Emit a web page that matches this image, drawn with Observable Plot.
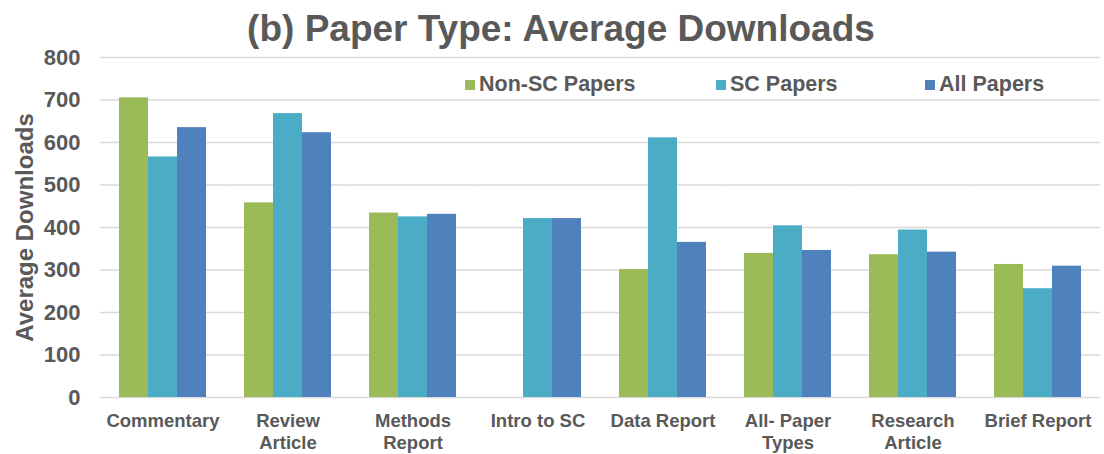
<!DOCTYPE html>
<html>
<head>
<meta charset="utf-8">
<script src="https://cdn.jsdelivr.net/npm/d3@7"></script>
<script src="https://cdn.jsdelivr.net/npm/@observablehq/plot@0.6"></script>
<style>
  html, body { margin: 0; padding: 0; background: #fff; }
  #wrap { position: relative; width: 1104px; height: 454px; font-family: "Liberation Sans", Arial, sans-serif; font-weight: bold; color: #595959; }
  #title { height: 52px; line-height: 58px; font-size: 37px; text-align: center; padding-left: 18px; box-sizing: border-box; white-space: nowrap; }
  #legend { position: absolute; top: 71px; left: 465px; font-size: 21.5px; white-space: nowrap; }
  #legend .item { display: inline-block; vertical-align: middle; }
  #legend .sw { display: inline-block; width: 10px; height: 10px; margin-right: 4px; vertical-align: 1px; }
</style>
</head>
<body>
<div id="wrap">
  <div id="title">(b) Paper Type: Average Downloads</div>
  <div id="chart"></div>
  <div id="legend"></div>
</div>
<script>
const categories = ["Commentary", "Review Article", "Methods Report", "Intro to SC", "Data Report", "All- Paper Types", "Research Article", "Brief Report"];
const tickLabels = ["Commentary", "Review\nArticle", "Methods\nReport", "Intro to SC", "Data Report", "All- Paper\nTypes", "Research\nArticle", "Brief Report"];
const seriesNames = ["Non-SC Papers", "SC Papers", "All Papers"];
const seriesColors = ["#9BBB59", "#4BACC6", "#4F81BD"];
const nonSC = [705, 458, 434, null, 301, 339, 336, 313];
const sc = [566, 668, 425, 421, 611, 404, 394, 256];
const allPapers = [635, 623, 431, 421, 365, 346, 342, 309];
const yTicks = [0, 100, 200, 300, 400, 500, 600, 700, 800];

const seriesValues = [nonSC, sc, allPapers];
const data = [];
categories.forEach((c, i) => {
  seriesNames.forEach((s, j) => {
    data.push({category: c, series: s, value: seriesValues[j][i]});
  });
});
const labelOf = new Map(categories.map((c, i) => [c, tickLabels[i]]));

const padInner = 0.285;
const gridInset = -((1104 - 100 - 3) / categories.length) * padInner / 2;

const chart = Plot.plot({
  width: 1104,
  height: 402,
  marginTop: 5,
  marginBottom: 57,
  marginLeft: 100,
  marginRight: 3,
  style: {fontFamily: "'Liberation Sans', Arial, sans-serif", fontWeight: "bold", color: "#595959", background: "transparent", overflow: "visible"},
  fx: {domain: categories, paddingInner: padInner, paddingOuter: padInner / 2, label: null},
  x: {domain: seriesNames, padding: 0, axis: null},
  y: {domain: [0, 800], ticks: yTicks},
  color: {domain: seriesNames, range: seriesColors},
  marks: [
    Plot.ruleY(yTicks, {stroke: "#d9d9d9", strokeWidth: 1.4, insetLeft: gridInset, insetRight: gridInset}),
    Plot.barY(data.filter(d => d.value != null), {fx: "category", x: "series", y: "value", fill: "series"}),
    Plot.axisY({ticks: yTicks, tickSize: 0, tickPadding: 38, fontSize: 22, label: "Average Downloads", labelAnchor: "center", labelArrow: "none", labelOffset: 103}),
    Plot.axisFx({anchor: "bottom", tickSize: 0, tickPadding: 14, fontSize: 18.5, lineHeight: 1.18, tickFormat: d => labelOf.get(d), label: null})
  ]
});
document.getElementById("chart").appendChild(chart);

// enlarge y-axis label
chart.querySelectorAll("g[aria-label='y-axis label']").forEach(g => {
  g.setAttribute("font-size", 24);
  g.querySelectorAll("text").forEach(t => t.setAttribute("font-size", 24));
});

const legend = document.getElementById("legend");
const widths = [251, 209, 140];
seriesNames.forEach((s, i) => {
  const item = document.createElement("span");
  item.className = "item";
  item.style.width = widths[i] + "px";
  const sw = document.createElement("span");
  sw.className = "sw";
  sw.style.background = seriesColors[i];
  item.appendChild(sw);
  item.appendChild(document.createTextNode(s));
  legend.appendChild(item);
});
</script>
</body>
</html>
